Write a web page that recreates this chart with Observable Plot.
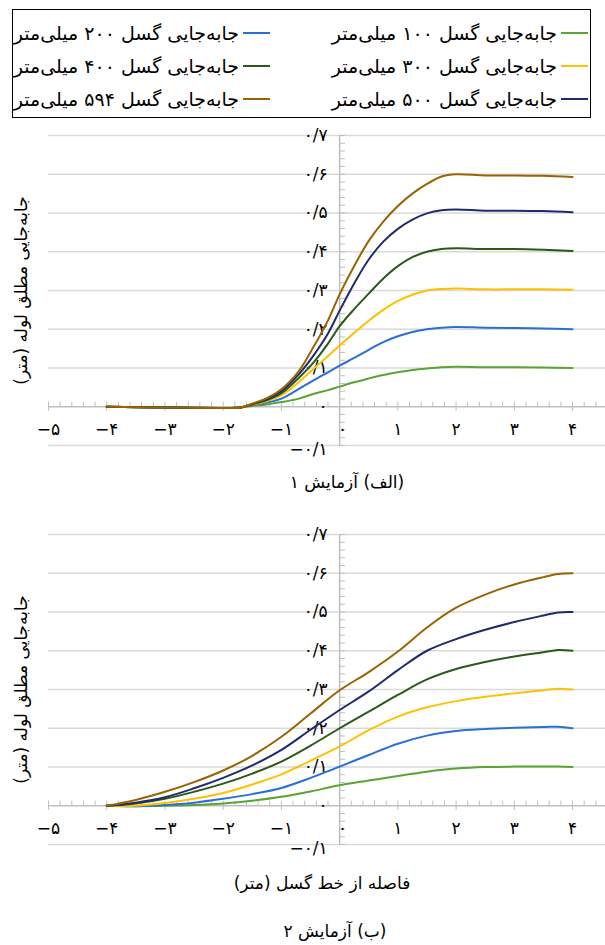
<!DOCTYPE html>
<html><head><meta charset="utf-8">
<script src="https://cdn.jsdelivr.net/npm/d3@7"></script>
<script src="https://cdn.jsdelivr.net/npm/@observablehq/plot@0.6"></script>
<style>
body{margin:0;background:#fff;}
#root{position:relative;width:605px;height:945px;font-family:"DejaVu Sans",sans-serif;overflow:hidden;background:#fff;}
#legend{position:absolute;left:12px;top:9px;width:577px;height:107px;border:1.5px solid #000;}
.item{position:absolute;height:30px;}
.item .txt{position:absolute;right:31px;top:0;white-space:nowrap;direction:rtl;font-size:19px;line-height:30px;}
.item .sw{position:absolute;right:0;top:14px;width:27px;height:2px;}
.cap{position:absolute;direction:rtl;white-space:nowrap;font-size:17px;transform:translate(-50%,-50%);}
.panel{position:absolute;left:0;}
</style></head><body><div id="root"><div id="legend"></div></div>
<script>
// ---- series / legend ----
const seriesNames = [
  "جابه‌جایی گسل ۱۰۰ میلی‌متر",
  "جابه‌جایی گسل ۲۰۰ میلی‌متر",
  "جابه‌جایی گسل ۳۰۰ میلی‌متر",
  "جابه‌جایی گسل ۴۰۰ میلی‌متر",
  "جابه‌جایی گسل ۵۰۰ میلی‌متر",
  "جابه‌جایی گسل ۵۹۴ میلی‌متر"
];
const seriesColors = ["#5aa532", "#2a6fd6", "#ffc000", "#2a5a16", "#1f2b6e", "#9a6200"];

// ---- test 1 (الف) ----
const xTest1 = [-4, -3, -2, -1.7, -1.5, -1.25, -1, -0.7, -0.45, -0.2, 0, 0.25, 0.5, 0.75, 1, 1.25, 1.5, 1.75, 2, 2.5, 3, 3.5, 4];
const t1_100 = [0, -0.002, -0.003, -0.002, 0.002, 0.006, 0.012, 0.021, 0.033, 0.043, 0.052, 0.063, 0.073, 0.082, 0.089, 0.095, 0.099, 0.102, 0.103, 0.102, 0.102, 0.101, 0.100];
const t1_200 = [0, -0.002, -0.003, -0.002, 0.004, 0.011, 0.021, 0.046, 0.068, 0.089, 0.106, 0.126, 0.147, 0.167, 0.182, 0.193, 0.200, 0.204, 0.206, 0.204, 0.203, 0.202, 0.200];
const t1_300 = [0, -0.002, -0.003, -0.002, 0.005, 0.015, 0.030, 0.064, 0.098, 0.131, 0.158, 0.191, 0.222, 0.250, 0.273, 0.289, 0.300, 0.304, 0.305, 0.303, 0.303, 0.303, 0.302];
const t1_400 = [0, -0.002, -0.003, -0.002, 0.006, 0.017, 0.035, 0.075, 0.114, 0.163, 0.208, 0.252, 0.292, 0.331, 0.363, 0.386, 0.400, 0.407, 0.409, 0.407, 0.407, 0.405, 0.402];
const t1_500 = [0, -0.002, -0.003, -0.002, 0.007, 0.020, 0.040, 0.084, 0.132, 0.189, 0.248, 0.318, 0.380, 0.426, 0.459, 0.483, 0.499, 0.507, 0.509, 0.506, 0.506, 0.505, 0.502];
const t1_594 = [0, -0.002, -0.003, -0.002, 0.008, 0.022, 0.045, 0.092, 0.154, 0.223, 0.290, 0.363, 0.428, 0.478, 0.518, 0.550, 0.575, 0.594, 0.600, 0.597, 0.597, 0.596, 0.593];

// ---- test 2 (ب) ----
const xTest2 = [-4, -3.5, -3, -2.5, -2, -1.5, -1, -0.5, 0, 0.5, 1, 1.5, 2, 2.5, 3, 3.5, 3.75, 4];
const t2_100 = [0, -0.001, 0.000, 0.002, 0.006, 0.013, 0.023, 0.037, 0.053, 0.065, 0.077, 0.088, 0.096, 0.100, 0.101, 0.101, 0.101, 0.100];
const t2_200 = [0, -0.001, 0.002, 0.008, 0.018, 0.030, 0.046, 0.072, 0.101, 0.131, 0.160, 0.181, 0.193, 0.198, 0.201, 0.203, 0.204, 0.200];
const t2_300 = [0, 0.000, 0.007, 0.018, 0.033, 0.055, 0.081, 0.116, 0.153, 0.195, 0.230, 0.254, 0.270, 0.281, 0.290, 0.298, 0.302, 0.300];
const t2_400 = [0, 0.006, 0.018, 0.036, 0.057, 0.083, 0.114, 0.155, 0.200, 0.243, 0.286, 0.326, 0.353, 0.371, 0.385, 0.396, 0.402, 0.400];
const t2_500 = [0, 0.008, 0.022, 0.045, 0.072, 0.104, 0.144, 0.196, 0.247, 0.295, 0.350, 0.400, 0.430, 0.454, 0.474, 0.491, 0.499, 0.500];
const t2_594 = [0, 0.015, 0.036, 0.061, 0.091, 0.129, 0.178, 0.238, 0.298, 0.345, 0.398, 0.460, 0.511, 0.545, 0.571, 0.590, 0.598, 0.600];

// ---- ticks ----
const xTickValues = [-5, -4, -3, -2, -1, 0, 1, 2, 3, 4];
const xTickLabels = ["−۵", "−۴", "−۳", "−۲", "−۱", "۰", "۱", "۲", "۳", "۴"];
const yTickValues = [-0.1, 0, 0.1, 0.2, 0.3, 0.4, 0.5, 0.6, 0.7];
const yTickLabels = ["−۰/۱", "۰", "۰/۱", "۰/۲", "۰/۳", "۰/۴", "۰/۵", "۰/۶", "۰/۷"];

const yTitle = "\u200Fجابه‌جایی مطلق لوله (متر)\u200F";
const xTitle = "فاصله از خط گسل (متر)";
const caption1 = "(الف) آزمایش ۱";
const caption2 = "(ب) آزمایش ۲";

const FONT = "DejaVu Sans";
const xMinor = d3.range(-50, 46, 2).map(d => d / 10).filter(d => !xTickValues.includes(d));
const yMinor = d3.range(-5, 36, 1).map(d => d / 50);

function buildRows(xs, list) {
  const rows = [];
  list.forEach((vals, i) => vals.forEach((v, j) => rows.push({x: xs[j], y: v, s: seriesNames[i]})));
  return rows;
}

const xLab = xTickValues.map((v, i) => ({v, t: xTickLabels[i]}));
const yLab = yTickValues.map((v, i) => ({v, t: yTickLabels[i]}));

function panel(xs, list) {
  const rows = buildRows(xs, list);
  return Plot.plot({
    width: 605, height: 345,
    marginTop: 15, marginBottom: 20, marginLeft: 48, marginRight: 0,
    x: {domain: [-5, 4.566], axis: null},
    y: {domain: [-0.1, 0.7], axis: null},
    color: {domain: seriesNames, range: seriesColors},
    style: {fontFamily: FONT, background: "transparent", color: "#000", overflow: "visible"},
    marks: [
      Plot.ruleY(yTickValues.filter(d => d !== 0), {y: d => d, stroke: "#d9d9d9", strokeWidth: 1.5}),
      Plot.ruleY([0], {x1: -5, x2: 4.566, stroke: "#bfbfbf", strokeWidth: 1.5}),
      Plot.ruleX([0], {y1: -0.1, y2: 0.7, stroke: "#bfbfbf", strokeWidth: 1.5}),
      Plot.ruleY(yMinor, {y: d => d, x1: 0, x2: 0.1, stroke: "#bfbfbf", strokeWidth: 1}),
      Plot.ruleX(xMinor, {x: d => d, y1: 0, y2: 0.012, stroke: "#bfbfbf", strokeWidth: 1}),
      Plot.ruleX(xTickValues.filter(d => d !== 0), {x: d => d, y1: -0.012, y2: 0.012, stroke: "#bfbfbf", strokeWidth: 1}),
      Plot.text(yLab.filter(d => d.v >= 0), {x: 0, y: "v", text: "t", dx: -12, textAnchor: "end", fontSize: 17}),
      Plot.text(yLab.filter(d => d.v < 0), {x: 0, y: "v", text: "t", dx: -12, dy: 4, textAnchor: "end", fontSize: 17}),
      Plot.text(xLab.filter(d => d.v !== 0), {x: "v", y: 0, text: "t", dy: 23, fontSize: 17}),
      Plot.text(xLab.filter(d => d.v === 0), {x: "v", y: 0, text: "t", dx: 3, dy: 23, fontSize: 17}),
      Plot.text([yTitle], {frameAnchor: "left", rotate: -90, textAnchor: "middle", dx: -27, fontSize: 17}),
      Plot.line(rows, {x: "x", y: "y", stroke: "s", z: "s", strokeWidth: 2, curve: "catmull-rom"})
    ]
  });
}

const root = document.getElementById("root");

// legend (HTML)
const legend = document.getElementById("legend");
const legendSlots = [
  {right: 2, top: 8}, {right: 320, top: 8},
  {right: 2, top: 41}, {right: 320, top: 41},
  {right: 2, top: 74}, {right: 320, top: 74}
];
seriesNames.forEach((name, i) => {
  const it = document.createElement("div");
  it.className = "item";
  it.style.right = legendSlots[i].right + "px";
  it.style.top = legendSlots[i].top + "px";
  it.style.width = "262px";
  const sw = document.createElement("div");
  sw.className = "sw"; sw.style.background = seriesColors[i];
  const tx = document.createElement("div");
  tx.className = "txt"; tx.textContent = name;
  it.appendChild(sw); it.appendChild(tx);
  legend.appendChild(it);
});

const p1 = panel(xTest1, [t1_100, t1_200, t1_300, t1_400, t1_500, t1_594]);
p1.classList.add("panel"); p1.style.top = "120px";
root.appendChild(p1);

const p2 = panel(xTest2, [t2_100, t2_200, t2_300, t2_400, t2_500, t2_594]);
p2.classList.add("panel"); p2.style.top = "519px";
root.appendChild(p2);

function cap(text, x, y) {
  const d = document.createElement("div");
  d.className = "cap"; d.textContent = text;
  d.style.left = x + "px"; d.style.top = y + "px";
  root.appendChild(d);
}
cap(caption1, 347, 482);
cap(xTitle, 322, 883);
cap(caption2, 335, 931);
</script>
</body></html>
